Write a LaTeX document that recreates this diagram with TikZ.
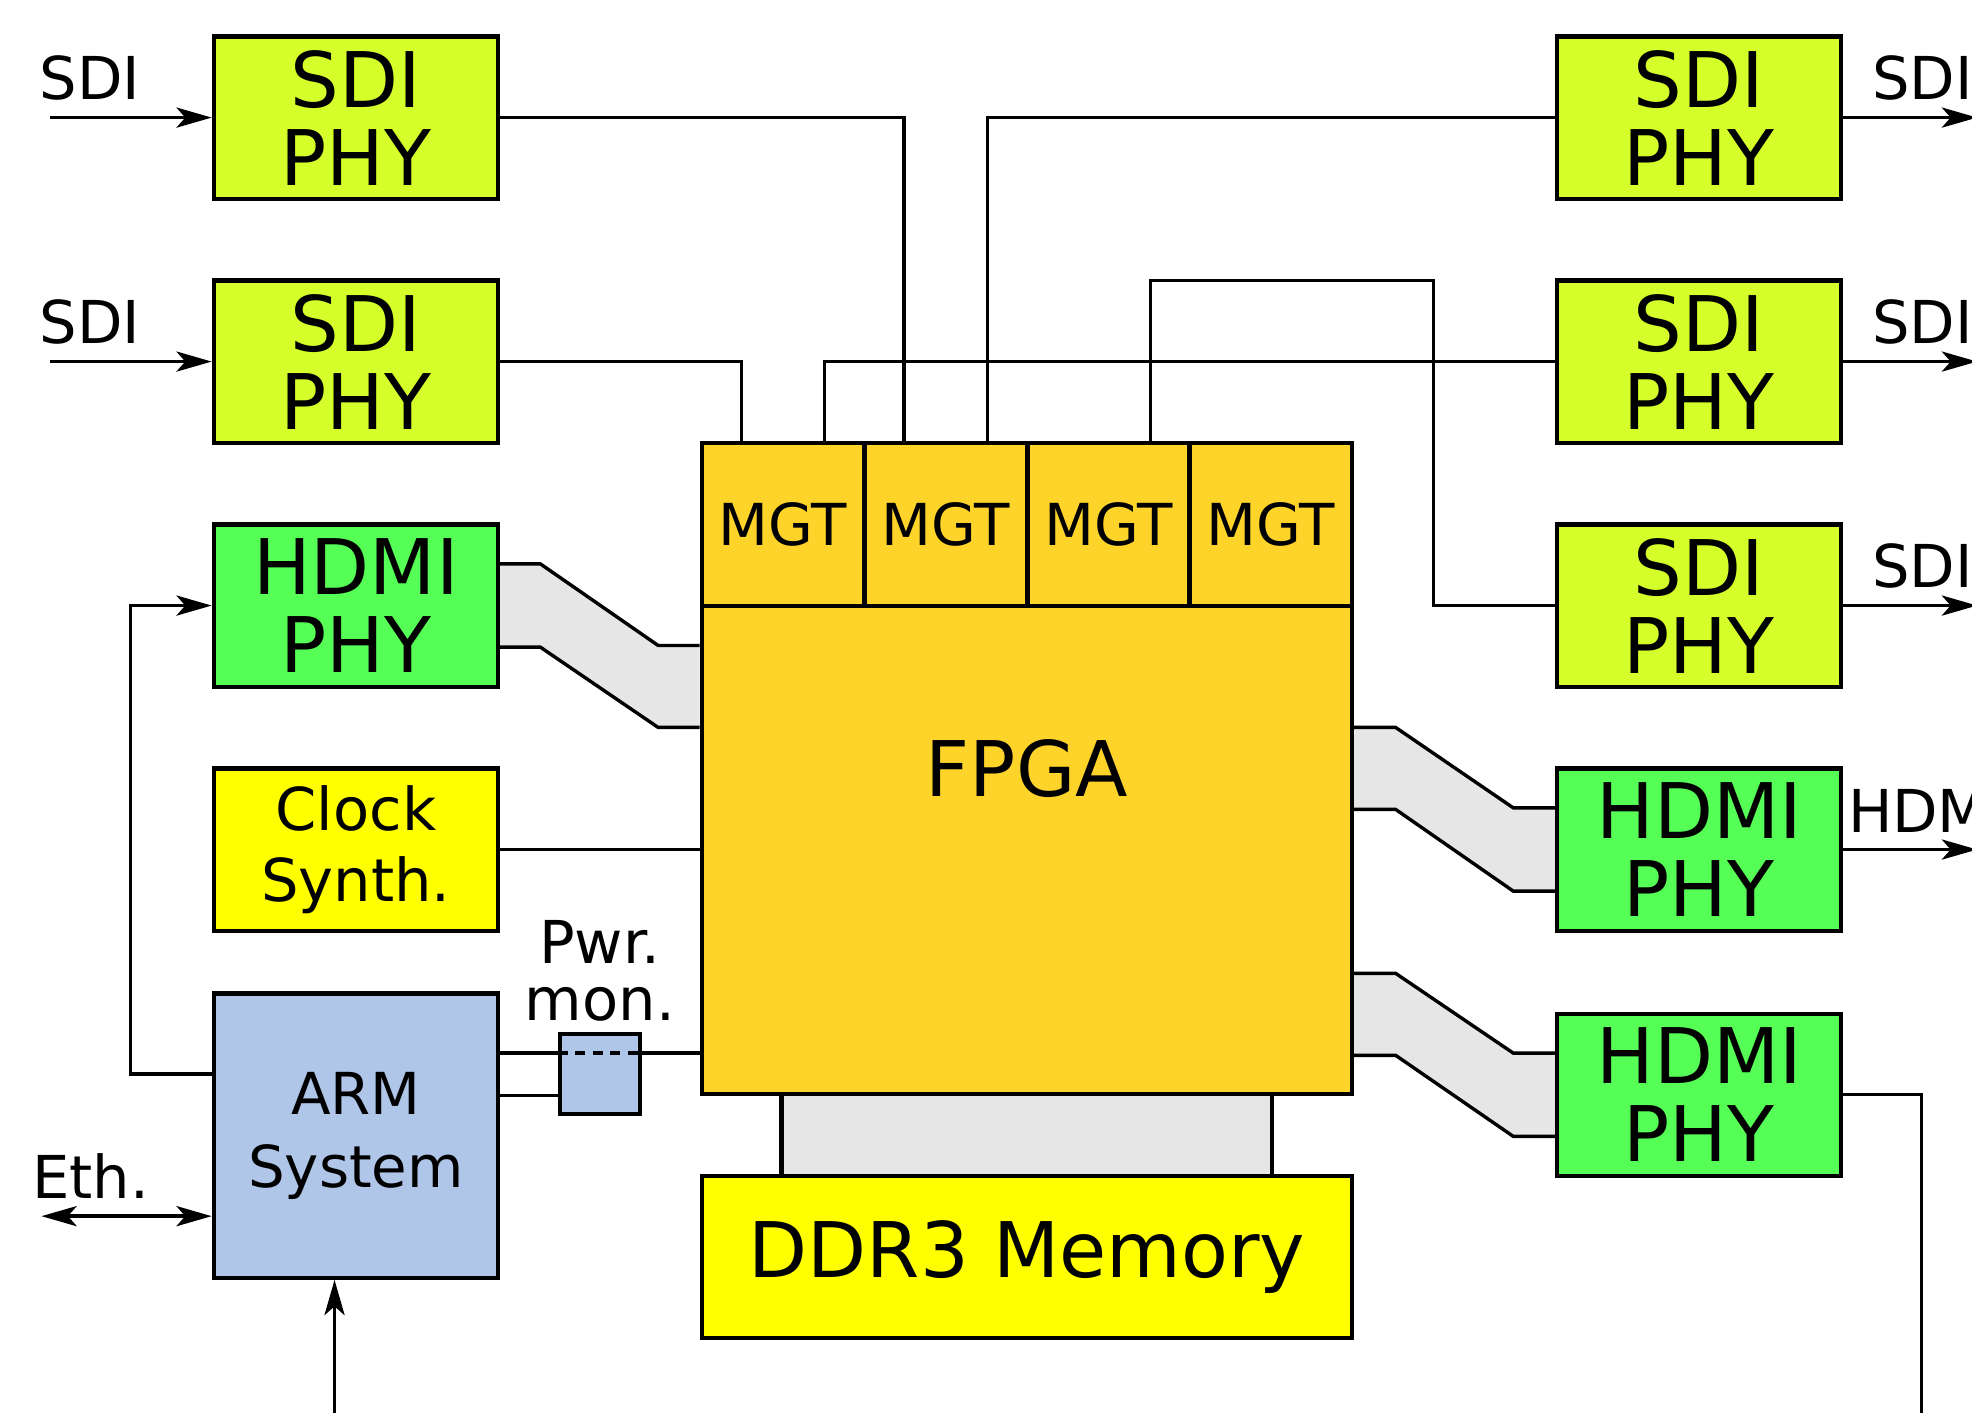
\documentclass[tikz,border=0pt]{standalone}
\usepackage{fontspec}
\setmainfont{DejaVu Sans}
\usepackage{xcolor}
\usepackage{tikz}
\usetikzlibrary{arrows.meta,calc}
\definecolor{sdiphy}{HTML}{D4FF2A}
\definecolor{hdmiphy}{HTML}{55FF55}
\definecolor{fpgaorange}{HTML}{FFD42A}
\definecolor{memyellow}{HTML}{FFFF00}
\definecolor{armblue}{HTML}{AFC6E9}
\definecolor{busgray}{HTML}{E6E6E6}

\begin{document}
\begin{tikzpicture}[x=0.5pt, y=-0.5pt, >={Stealth[length=14pt, width=8pt, inset=3.5pt]},
  box/.style={draw, line width=1.7pt, inner sep=0pt, minimum width=113pt, minimum height=64.5pt, align=center, font=\fontsize{30.5pt}{31pt}\selectfont},
  mgt/.style={draw, fill=fpgaorange, line width=1.7pt, inner sep=0pt, minimum width=64.6pt, minimum height=65pt, font=\fontsize{23pt}{28pt}\selectfont},
  lbl/.style={inner sep=0pt, align=center, font=\fontsize{23.5pt}{28pt}\selectfont},
  wire/.style={line width=1.35pt}]
\useasboundingbox (0,0) rectangle (1568,1123);
\clip (0,0) rectangle (1568,1123);
\node[box, fill=sdiphy] (sdiA) at (283,93.5) {SDI\\PHY};
\node[box, fill=sdiphy] (sdiB) at (283,287.5) {SDI\\PHY};
\node[box, fill=hdmiphy] (hdmiA) at (283,481.5) {HDMI\\PHY};
\node[box, fill=memyellow, font=\fontsize{23.5pt}{28pt}\selectfont] (clk) at (283,675.5) {Clock\\Synth.};
\node[box, fill=armblue, minimum height=113pt, font=\fontsize{23pt}{29pt}\selectfont] (arm) at (283,903) {ARM\\System};
\node[box, fill=armblue, minimum width=32pt, minimum height=32pt] (pwr) at (477,854) {};
\node[box, fill=fpgaorange, minimum width=258.5pt, minimum height=259pt] (fpga) at (816.5,611) {FPGA};
\node[mgt] (mgt1) at (622.5,417) {MGT};
\node[mgt] (mgt2) at (752,417) {MGT};
\node[mgt] (mgt3) at (881.5,417) {MGT};
\node[mgt] (mgt4) at (1010.5,417) {MGT};
\node[box, fill=memyellow, minimum width=258.5pt] (ddr) at (816.5,999.5) {DDR3 Memory};
\node[box, fill=sdiphy] (sdiC) at (1351,93.5) {SDI\\PHY};
\node[box, fill=sdiphy] (sdiD) at (1351,287.5) {SDI\\PHY};
\node[box, fill=sdiphy] (sdiE) at (1351,481.5) {SDI\\PHY};
\node[box, fill=hdmiphy] (hdmiB) at (1351,675.5) {HDMI\\PHY};
\node[box, fill=hdmiphy] (hdmiC) at (1351,870.5) {HDMI\\PHY};

\coordinate (m1a) at ($(mgt1.north west)!.25!(mgt1.north east)$);
\coordinate (m1b) at ($(mgt1.north west)!.75!(mgt1.north east)$);
\coordinate (m2a) at ($(mgt2.north west)!.25!(mgt2.north east)$);
\coordinate (m2b) at ($(mgt2.north west)!.75!(mgt2.north east)$);
\coordinate (m3b) at ($(mgt3.north west)!.75!(mgt3.north east)$);
\coordinate (loop) at (1140,223);
\draw[wire] (sdiA.east) -| (m2a);
\draw[wire] (sdiB.east) -| (m1a);
\draw[wire] (sdiC.west) -| (m2b);
\draw[wire] (sdiD.west) -| (m1b);
\draw[wire] (sdiE.west) -| (loop) -| (m3b);

\coordinate (inA) at (40,93.5);
\coordinate (inB) at (40,287.5);
\draw[wire, ->] (inA) -- (sdiA.west);
\draw[wire, ->] (inB) -- (sdiB.west);
\node[lbl] (inAlbl) at (71.5,62) {SDI};
\node[lbl] (inBlbl) at (71.5,256) {SDI};

\coordinate (outC) at (1572,93.5);
\coordinate (outD) at (1572,287.5);
\coordinate (outE) at (1572,481.5);
\coordinate (outB) at (1572,675.5);
\coordinate (outH) at (1528,1130);
\draw[wire, ->] (sdiC.east) -- (outC);
\draw[wire, ->] (sdiD.east) -- (outD);
\draw[wire, ->] (sdiE.east) -- (outE);
\draw[wire, ->] (hdmiB.east) -- (outB);
\draw[wire] (hdmiC.east) -| (outH);
\node[lbl] (outClbl) at (1528.5,62) {SDI};
\node[lbl] (outDlbl) at (1528.5,256) {SDI};
\node[lbl] (outElbl) at (1528.5,450) {SDI};
\node[lbl, anchor=west] (outBlbl) at (1469,644.5) {HDMI};

\coordinate (ctl) at (104,854);
\coordinate (eth) at (33,967);
\coordinate (armin) at (266,1130);
\draw[wire, ->] (ctl -| arm.west) -- (ctl) |- (hdmiA.west);
\draw[wire, <->] (eth) -- (eth -| arm.west);
\draw[wire, ->] (armin) -- (armin |- arm.south);
\node[lbl] (ethlbl) at (72,935.5) {Eth.};

\coordinate (pwrA) at ($(pwr.north west)!.25!(pwr.south west)$);
\coordinate (pwrB) at ($(pwr.north west)!.75!(pwr.south west)$);
\draw[wire] (pwrA -| arm.east) -- (pwrA);
\draw[wire, dash pattern=on 4pt off 3pt] (pwrA) -- (pwrA -| pwr.east);
\draw[wire] (pwrA -| pwr.east) -- (pwrA -| fpga.west);
\draw[wire] (pwrB -| arm.east) -- (pwrB);
\node[lbl, font=\fontsize{23.5pt}{22.5pt}\selectfont] (pwrlbl) at (477,772) {Pwr.\\mon.};
\draw[wire] (clk.east) -- (clk.east -| fpga.west);

\coordinate (hA1) at ($(hdmiA.north east)!.25!(hdmiA.south east)$);
\coordinate (hA2) at ($(hdmiA.north east)!.75!(hdmiA.south east)$);
\coordinate (fA1) at ($(fpga.north west)!.3125!(fpga.south west)$);
\coordinate (fA2) at ($(fpga.north west)!.4375!(fpga.south west)$);
\fill[busgray] (hA1) -- ++(32,0) -- ($(fA1)+(-33,0)$) -- (fA1) -- (fA2) -- ($(fA2)+(-33,0)$) -- ($(hA2)+(32,0)$) -- (hA2) -- cycle;
\draw[wire] (hA1) -- ++(32,0) -- ($(fA1)+(-33,0)$) -- (fA1);
\draw[wire] (hA2) -- ++(32,0) -- ($(fA2)+(-33,0)$) -- (fA2);

\coordinate (fB1) at ($(fpga.north east)!.4375!(fpga.south east)$);
\coordinate (fB2) at ($(fpga.north east)!.5625!(fpga.south east)$);
\coordinate (hB1) at ($(hdmiB.north west)!.25!(hdmiB.south west)$);
\coordinate (hB2) at ($(hdmiB.north west)!.75!(hdmiB.south west)$);
\fill[busgray] (fB1) -- ++(33,0) -- ($(hB1)+(-33,0)$) -- (hB1) -- (hB2) -- ($(hB2)+(-33,0)$) -- ($(fB2)+(33,0)$) -- (fB2) -- cycle;
\draw[wire] (fB1) -- ++(33,0) -- ($(hB1)+(-33,0)$) -- (hB1);
\draw[wire] (fB2) -- ++(33,0) -- ($(hB2)+(-33,0)$) -- (hB2);

\coordinate (fC1) at ($(fpga.north east)!.8125!(fpga.south east)$);
\coordinate (fC2) at ($(fpga.north east)!.9375!(fpga.south east)$);
\coordinate (hC1) at ($(hdmiC.north west)!.25!(hdmiC.south west)$);
\coordinate (hC2) at ($(hdmiC.north west)!.75!(hdmiC.south west)$);
\fill[busgray] (fC1) -- ++(33,0) -- ($(hC1)+(-33,0)$) -- (hC1) -- (hC2) -- ($(hC2)+(-33,0)$) -- ($(fC2)+(33,0)$) -- (fC2) -- cycle;
\draw[wire] (fC1) -- ++(33,0) -- ($(hC1)+(-33,0)$) -- (hC1);
\draw[wire] (fC2) -- ++(33,0) -- ($(hC2)+(-33,0)$) -- (hC2);

\coordinate (dA) at ($(fpga.south west)!.125!(fpga.south east)$);
\coordinate (dB) at ($(fpga.south west)!.875!(fpga.south east)$);
\fill[busgray] (dA) rectangle (dB |- ddr.north);
\draw[line width=1.7pt] (dA) -- (dA |- ddr.north);
\draw[line width=1.7pt] (dB) -- (dB |- ddr.north);
\end{tikzpicture}
\end{document}
